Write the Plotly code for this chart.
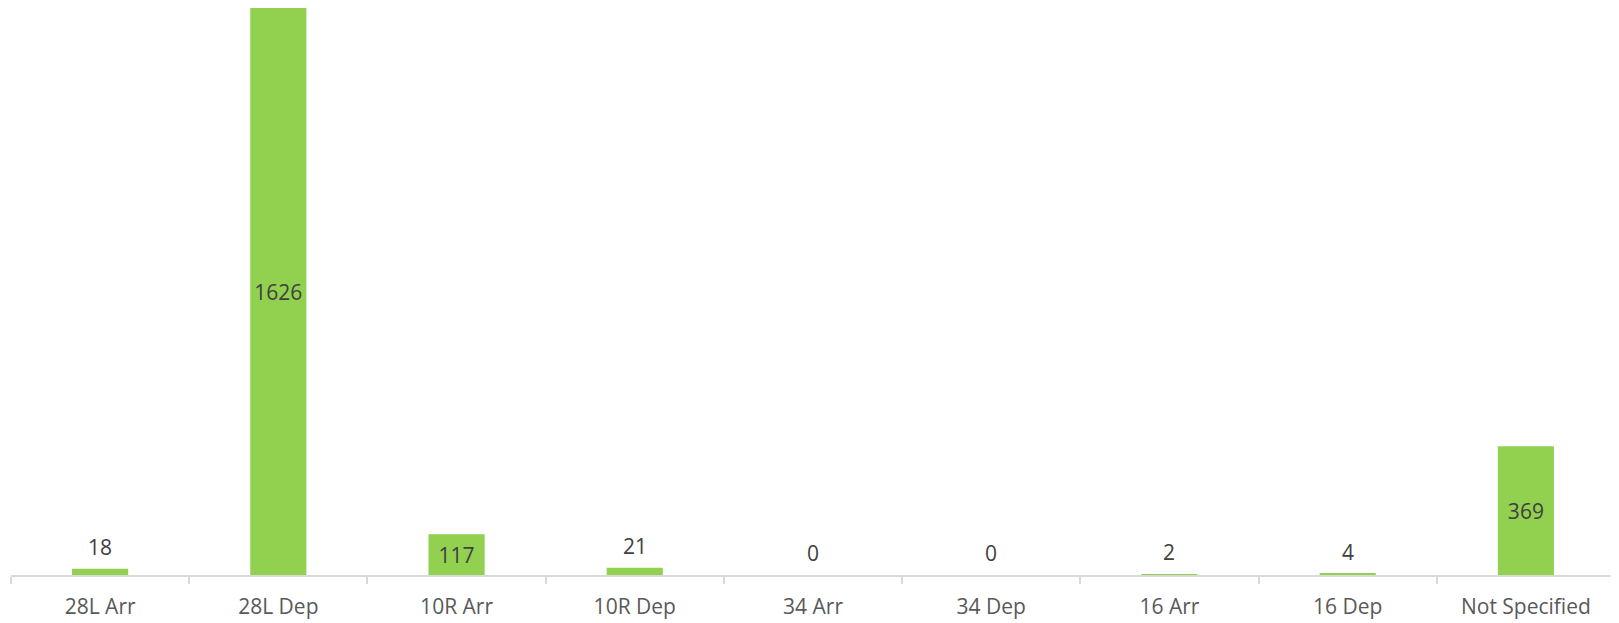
import plotly.graph_objects as go

categories = ["28L Arr", "28L Dep", "10R Arr", "10R Dep", "34 Arr", "34 Dep", "16 Arr", "16 Dep", "Not Specified"]
values = [18, 1626, 117, 21, 0, 0, 2, 4, 369]

INSIDE_MIN = 100
inside_text = [str(v) if v >= INSIDE_MIN else "" for v in values]

FONT = "Open Sans"

fig = go.Figure()
fig.add_trace(go.Bar(
    x=categories,
    y=values,
    marker=dict(color="#92D050", line=dict(width=0)),
    text=inside_text,
    textposition="inside",
    insidetextanchor="middle",
    textangle=0,
    textfont=dict(family=FONT, size=21, color="#404040"),
    hoverinfo="x+y",
))

for c, v in zip(categories, values):
    if v < INSIDE_MIN:
        fig.add_annotation(
            x=c, y=v, text=str(v), showarrow=False,
            yanchor="middle", yshift=22,
            font=dict(family=FONT, size=21, color="#404040"),
        )

fig.update_layout(
    width=1611, height=615,
    margin=dict(l=3, r=4, t=0, b=48),
    paper_bgcolor="white", plot_bgcolor="white",
    bargap=0.685,
    showlegend=False,
    xaxis=dict(
        type="category",
        showline=True, linecolor="#D9D9D9", linewidth=1.5,
        ticks="outside", tickson="boundaries", ticklen=7, tickcolor="#D9D9D9", tickwidth=1.5,
        tickfont=dict(family=FONT, size=21, color="#595959"),
        ticklabelstandoff=12,
        showgrid=False, zeroline=False,
    ),
    yaxis=dict(
        range=[0, 1626], visible=False, showgrid=False, zeroline=False,
    ),
)

fig.write_html("out.html")
